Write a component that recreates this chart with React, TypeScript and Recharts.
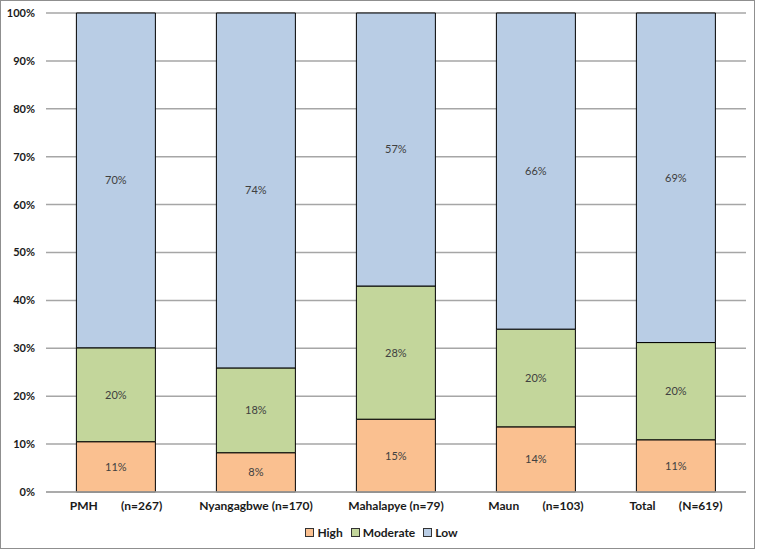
import { BarChart, Bar, XAxis, YAxis, CartesianGrid, LabelList } from 'recharts';

// Share of respondents per site, in percent
const sites = ['PMH        (n=267)', 'Nyangagbwe (n=170)', 'Mahalapye (n=79)', 'Maun        (n=103)', 'Total        (N=619)'];
const high = [10.5, 8.2, 15.2, 13.6, 10.9];
const moderate = [19.6, 17.7, 27.8, 20.4, 20.3];
const low = [69.9, 74.1, 57.0, 66.0, 68.8];
const yTicks = [0, 10, 20, 30, 40, 50, 60, 70, 80, 90, 100];

const series = [
  { key: 'high', name: 'High', color: '#FAC090' },
  { key: 'moderate', name: 'Moderate', color: '#C3D69B' },
  { key: 'low', name: 'Low', color: '#B9CDE5' },
];

const data = sites.map((site, i) => ({
  site,
  high: high[i],
  moderate: moderate[i],
  low: low[i],
}));

const font = 'Lato, "Open Sans", sans-serif';

const SiteTick = (props: any) => {
  const { x, y, payload } = props;
  return (
    <text
      x={x}
      y={y}
      dy={10}
      textAnchor="middle"
      fontFamily={font}
      fontWeight="bold"
      fontSize={12}
      fill="#1a1a1a"
      style={{ whiteSpace: 'pre' }}
    >
      {payload.value}
    </text>
  );
};

export default function App() {
  return (
    <div
      style={{
        position: 'absolute',
        left: 0,
        top: 0,
        width: 755,
        height: 549,
        border: '1px solid #8f8f8f',
        boxSizing: 'border-box',
        background: '#fff',
      }}
    >
      <div style={{ position: 'absolute', left: -1, top: -1 }}>
        <BarChart
          width={759}
          height={551}
          data={data}
          margin={{ top: 13, right: 13, left: 0, bottom: 29 }}
          barCategoryGap="21.7%"
        >
          <CartesianGrid vertical={false} stroke="#a6a6a6" strokeWidth={1.5} />
          <XAxis
            dataKey="site"
            tick={<SiteTick />}
            tickLine={false}
            axisLine={{ stroke: '#a6a6a6', strokeWidth: 1.5 }}
            interval={0}
            height={30}
          />
          <YAxis
            domain={[0, 100]}
            ticks={yTicks}
            tickFormatter={(v: number) => `${v}%`}
            tick={{ fontSize: 11, fontWeight: 'bold', fill: '#1a1a1a', fontFamily: font }}
            tickLine={false}
            axisLine={false}
            tickSize={0}
            tickMargin={11}
            width={46}
          />
          {series.map((s) => (
            <Bar
              key={s.key}
              dataKey={s.key}
              name={s.name}
              stackId="a"
              fill={s.color}
              stroke="#000"
              strokeWidth={1}
              isAnimationActive={false}
            >
              <LabelList
                dataKey={s.key}
                position="center"
                formatter={(v: any) => `${Math.round(Number(v))}%`}
                style={{ fontSize: 11, fill: '#404040', fontFamily: font }}
              />
            </Bar>
          ))}
        </BarChart>
      </div>
      <div
        style={{
          position: 'absolute',
          top: 524,
          left: 0,
          width: 761,
          display: 'flex',
          justifyContent: 'center',
          gap: 8,
          fontFamily: font,
          fontWeight: 'bold',
          fontSize: 12,
          color: '#1a1a1a',
        }}
      >
        {series.map((s) => (
          <div key={s.key} style={{ display: 'flex', alignItems: 'center', gap: 3 }}>
            <span
              style={{
                display: 'inline-block',
                width: 7,
                height: 7,
                background: s.color,
                border: '1px solid #333',
              }}
            />
            <span>{s.name}</span>
          </div>
        ))}
      </div>
    </div>
  );
}
